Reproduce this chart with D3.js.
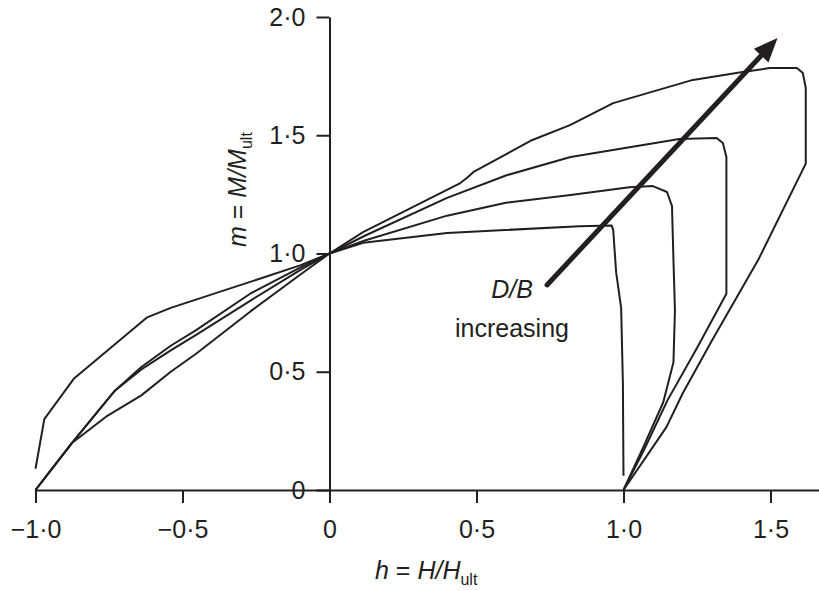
<!DOCTYPE html>
<html>
<head>
<meta charset="utf-8">
<script src="https://cdn.jsdelivr.net/npm/d3@7/dist/d3.min.js"></script>
<style>
  html, body { margin: 0; padding: 0; background: #fff; }
  svg { display: block; font-family: "Liberation Sans", Arial, sans-serif; }
</style>
</head>
<body>
<div id="chart"></div>
<script>
// h = H/Hult, m = M/Mult, one list per D/B value (smallest to largest)
const curveA = [
    [-1.0, 0.09], [-0.97, 0.30], [-0.87, 0.47], [-0.62, 0.73], [-0.54, 0.77],
    [-0.27, 0.88], [-0.1, 0.95], [0, 1.0], [0.115, 1.045], [0.4, 1.087],
    [0.85, 1.115], [0.96, 1.118], [0.965, 1.10], [0.975, 0.92], [0.992, 0.77],
    [0.998, 0.45], [1.0, 0.06]
];
const curveB = [
    [-1.0, 0.0], [-0.875, 0.2], [-0.73, 0.42], [-0.64, 0.52], [-0.54, 0.61],
    [-0.455, 0.675], [-0.27, 0.83], [-0.1, 0.94], [0, 1.0], [0.12, 1.055],
    [0.4, 1.16], [0.6, 1.215], [0.82, 1.247], [1.02, 1.28], [1.10, 1.285],
    [1.148, 1.26], [1.165, 1.20], [1.17, 0.97], [1.175, 0.76], [1.17, 0.54],
    [1.135, 0.37], [1.067, 0.18], [1.0, 0.0]
];
const curveC = [
    [-1.0, 0.0], [-0.875, 0.2], [-0.73, 0.42], [-0.64, 0.51], [-0.54, 0.59],
    [-0.455, 0.655], [-0.27, 0.80], [-0.1, 0.93], [0, 1.0], [0.12, 1.075],
    [0.4, 1.235], [0.6, 1.33], [0.82, 1.408], [1.19, 1.484], [1.317, 1.488],
    [1.338, 1.467], [1.35, 1.408], [1.35, 0.89], [1.35, 0.83], [1.25, 0.6],
    [1.15, 0.38], [1.07, 0.17], [1.0, 0.0]
];
const curveD = [
    [-1.0, 0.0], [-0.875, 0.2], [-0.76, 0.31], [-0.64, 0.40], [-0.54, 0.50],
    [-0.455, 0.575], [-0.27, 0.754], [-0.1, 0.91], [0, 1.0], [0.114, 1.09],
    [0.445, 1.298], [0.468, 1.32], [0.49, 1.345], [0.69, 1.48], [0.818, 1.543],
    [0.965, 1.636], [1.236, 1.734], [1.405, 1.767], [1.497, 1.784], [1.59, 1.784],
    [1.61, 1.763], [1.62, 1.70], [1.62, 1.38], [1.457, 0.97], [1.3, 0.63],
    [1.202, 0.41], [1.146, 0.266], [1.0, 0.0]
];
const curves = [curveA, curveB, curveC, curveD];

const xTicks = [-1.0, -0.5, 0, 0.5, 1.0, 1.5];
const yTicks = [0, 0.5, 1.0, 1.5, 2.0];

// "D/B increasing" arrow, in data units
const arrowFrom = [0.74, 0.867];
const arrowTo = [1.524, 1.911];

const width = 819, height = 591;
const ink = '#231f20';

const svg = d3.select('#chart')
    .append('svg')
    .attr('width', width)
    .attr('height', height);

const x = d3.scaleLinear().domain([-1, 1.665]).range([35.5, 819]);
const y = d3.scaleLinear().domain([0, 2]).range([490, 17]);

const fmt = d => d === 0 ? '0' : d3.format('.1f')(d).replace('.', '\u00b7');

// x axis
const xAxis = svg.append('g')
    .attr('transform', `translate(0,${y(0)})`)
    .call(d3.axisBottom(x)
        .tickValues(xTicks)
        .tickFormat(fmt)
        .tickSize(13)
        .tickSizeOuter(0)
        .tickPadding(17));

// y axis
const yAxis = svg.append('g')
    .attr('transform', `translate(${x(0)},0)`)
    .call(d3.axisLeft(y)
        .tickValues(yTicks)
        .tickFormat(fmt)
        .tickSize(13)
        .tickSizeOuter(0)
        .tickPadding(11));

[xAxis, yAxis].forEach(g => {
    g.select('.domain').attr('stroke', ink).attr('stroke-width', 2);
    g.selectAll('.tick line').attr('stroke', ink).attr('stroke-width', 2);
    g.selectAll('.tick text')
        .attr('fill', ink)
        .style('font-size', '25px')
        .style('font-family', '"Liberation Sans", Arial, sans-serif');
});

// curves
const line = d3.line()
    .x(d => x(d[0]))
    .y(d => y(d[1]));

svg.append('g')
    .selectAll('path')
    .data(curves)
    .enter()
    .append('path')
    .attr('d', line)
    .attr('fill', 'none')
    .attr('stroke', ink)
    .attr('stroke-width', 2)
    .attr('stroke-linejoin', 'round');

// arrow
const x1 = x(arrowFrom[0]), y1 = y(arrowFrom[1]);
const x2 = x(arrowTo[0]), y2 = y(arrowTo[1]);
const ang = Math.atan2(y2 - y1, x2 - x1);
const headLen = 24, headHalf = 10;
const bx = x2 - headLen * Math.cos(ang), by = y2 - headLen * Math.sin(ang);

svg.append('line')
    .attr('x1', x1).attr('y1', y1)
    .attr('x2', bx + 4 * Math.cos(ang)).attr('y2', by + 4 * Math.sin(ang))
    .attr('stroke', ink)
    .attr('stroke-width', 5)
    .attr('stroke-linecap', 'round');

svg.append('path')
    .attr('d', `M${x2},${y2}L${bx - headHalf * Math.sin(ang)},${by + headHalf * Math.cos(ang)}` +
        `L${bx + headHalf * Math.sin(ang)},${by - headHalf * Math.cos(ang)}Z`)
    .attr('fill', ink);

// annotation
svg.append('text')
    .attr('x', 512)
    .attr('y', 298)
    .attr('text-anchor', 'middle')
    .attr('fill', ink)
    .style('font-size', '25px')
    .style('font-style', 'italic')
    .text('D/B');

svg.append('text')
    .attr('x', 512)
    .attr('y', 337)
    .attr('text-anchor', 'middle')
    .attr('fill', ink)
    .style('font-size', '25px')
    .text('increasing');

// axis titles
const xTitle = svg.append('text')
    .attr('x', 375)
    .attr('y', 579)
    .attr('fill', ink)
    .style('font-size', '25px');
xTitle.append('tspan').style('font-style', 'italic').text('h');
xTitle.append('tspan').text(' = ');
xTitle.append('tspan').style('font-style', 'italic').text('H/H');
xTitle.append('tspan').attr('dy', 6).style('font-size', '16px').text('ult');

const yTitle = svg.append('text')
    .attr('transform', 'translate(246,247) rotate(-90)')
    .attr('fill', ink)
    .style('font-size', '25px');
yTitle.append('tspan').style('font-style', 'italic').text('m');
yTitle.append('tspan').text(' = ');
yTitle.append('tspan').style('font-style', 'italic').text('M/M');
yTitle.append('tspan').attr('dy', 6).style('font-size', '16px').text('ult');
</script>
</body>
</html>
